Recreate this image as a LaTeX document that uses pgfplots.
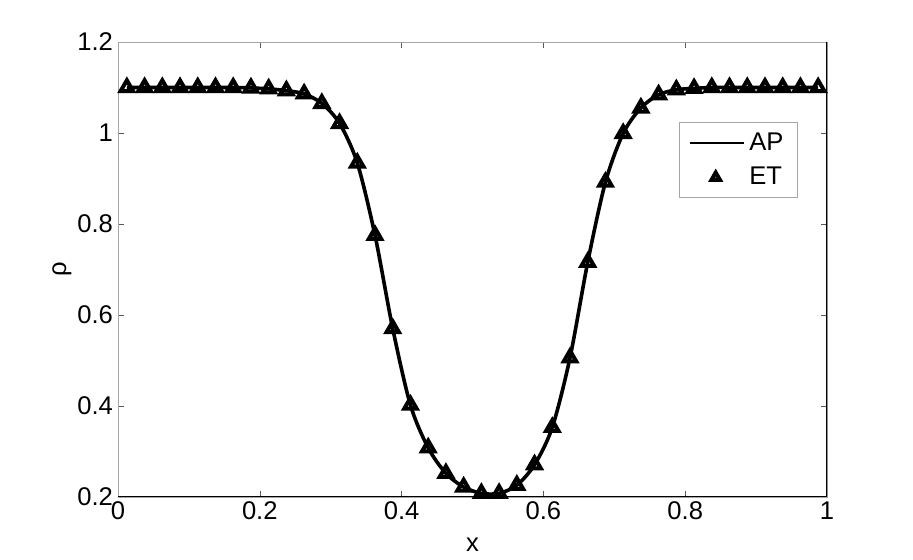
\documentclass[border=0pt]{standalone}
\usepackage{fontspec}
\setmainfont{Liberation Sans}
\usepackage{pgfplots}
\pgfplotsset{compat=1.18}
\usepackage{pgfplotstable}

\pgfplotstableread{
x      rho
0.0125 1.100
0.0375 1.100
0.0625 1.100
0.0875 1.100
0.1125 1.100
0.1375 1.100
0.1625 1.100
0.1875 1.099
0.2125 1.097
0.2375 1.093
0.2625 1.086
0.2875 1.065
0.3125 1.021
0.3375 0.934
0.3625 0.775
0.3875 0.570
0.4125 0.402
0.4375 0.308
0.4625 0.252
0.4875 0.222
0.5125 0.208
0.5375 0.208
0.5625 0.226
0.5875 0.271
0.6125 0.353
0.6375 0.506
0.6625 0.716
0.6875 0.892
0.7125 0.999
0.7375 1.055
0.7625 1.084
0.7875 1.095
0.8125 1.098
0.8375 1.100
0.8625 1.100
0.8875 1.100
0.9125 1.100
0.9375 1.100
0.9625 1.100
0.9875 1.100
}\rhodata

\newcommand{\lblfont}{\fontsize{12.8}{15}\selectfont}

\begin{document}
\begin{tikzpicture}
\path[use as bounding box] (-59pt,-31.5pt) rectangle (397.5pt,248.5pt);
\begin{axis}[
  at={(0,0)}, anchor=south west,
  scale only axis,
  width=354.5pt, height=227.5pt,
  xmin=0, xmax=1, ymin=0.2, ymax=1.2,
  xtick={0,0.2,...,1}, ytick={0.2,0.4,...,1.2},
  xticklabels={0,0.2,0.4,0.6,0.8,1},
  yticklabels={0.2,0.4,0.6,0.8,1,1.2},
  tick align=inside, major tick length=3pt,
  tick style={gray!70!black},
  axis line style={gray!70},
  ticklabel style={font=\lblfont},
  xticklabel style={yshift=1pt},
  yticklabel style={xshift=1pt},
  /pgf/number format/assume math mode=true,
  xlabel={x}, ylabel={ρ},
  every axis x label/.style={at={(axis description cs:0.5,-0.105)}, anchor=center, font=\lblfont},
  every axis y label/.style={at={(axis description cs:-0.079,0.5)}, anchor=center, rotate=90, font=\lblfont},
  legend style={at={(0.959,0.824)}, anchor=north east, draw=gray!70, font=\lblfont,
    row sep=3pt, inner xsep=5pt, inner ysep=3pt},
  legend cell align=left,
]
\addplot[black, line width=1.8pt, smooth, tension=0.5, no marks,
  legend image code/.code={\draw[black, line width=1.2pt] (0cm,0cm) -- (0.95cm,0cm);}]
  table[x=x, y=rho] {\rhodata};
\addlegendentry{AP}
\addplot[only marks, mark=triangle, mark size=3.6pt,
  mark options={draw=black, fill=white, line width=2pt},
  legend image code/.code={\draw[black, fill=white, line width=0.9pt, mark size=2.4pt] plot[mark=triangle] coordinates {(0.45cm,0cm)};}]
  table[x=x, y=rho] {\rhodata};
\addlegendentry{ET}
\draw[black, line width=0.6pt] (rel axis cs:0,0) -- (rel axis cs:1,0) -- (rel axis cs:1,1);
\end{axis}
\end{tikzpicture}
\end{document}
